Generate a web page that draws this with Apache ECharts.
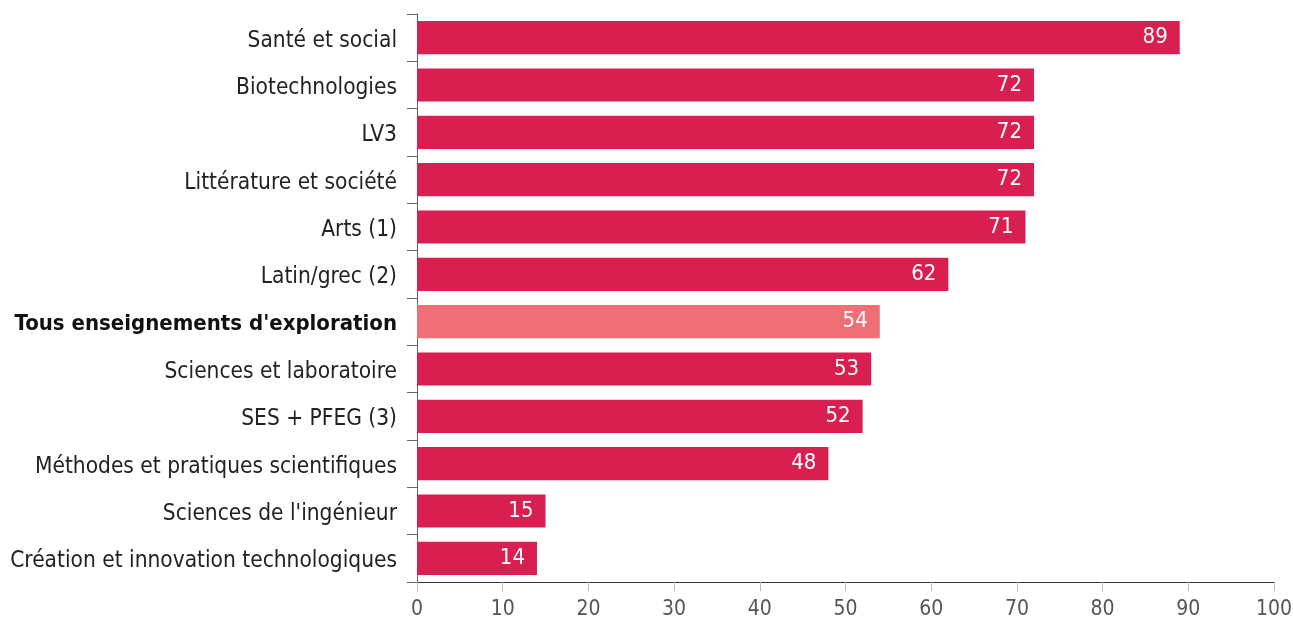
<!DOCTYPE html>
<html lang="fr">
  <head>
    <meta charset="UTF-8" />
    <title>Enseignements d'exploration</title>
    <style>
      * {
        margin: 0;
        padding: 0;
      }
      body {
        background: #fff;
      }
    </style>
  </head>
  <body>
    <div id="main" style="width: 1293px; height: 629px;"></div>
    <script src="https://cdn.jsdelivr.net/npm/echarts@6/dist/echarts.min.js"></script>
    <script>
      // données, du haut vers le bas
      const categories = [
        "Santé et social",
        "Biotechnologies",
        "LV3",
        "Littérature et société",
        "Arts (1)",
        "Latin/grec (2)",
        "Tous enseignements d'exploration",
        "Sciences et laboratoire",
        "SES + PFEG (3)",
        "Méthodes et pratiques scientifiques",
        "Sciences de l'ingénieur",
        "Création et innovation technologiques",
      ];
      const values = [89, 72, 72, 72, 71, 62, 54, 53, 52, 48, 15, 14];
      const highlight = "Tous enseignements d'exploration";
      const xTicks = [0, 10, 20, 30, 40, 50, 60, 70, 80, 90, 100];

      const font = "'DejaVu Sans Condensed', sans-serif";

      function draw() {
        let myEcharts = echarts.init(document.getElementById("main"));
        // echarts draws category axes from the bottom, so reverse
        let cats = categories.slice().reverse();
        let vals = values.slice().reverse();
        let data = vals.map(function (v, i) {
          return {
            value: v,
            itemStyle: { color: cats[i] === highlight ? "#ee7076" : "#d91f50" },
          };
        });

        let option = {
          animation: false,
          grid: {
            left: 417,
            right: 19,
            top: 14,
            bottom: 47,
            containLabel: false,
            outerBoundsMode: "none",
          },
          xAxis: {
            type: "value",
            min: xTicks[0],
            max: xTicks[xTicks.length - 1],
            interval: 10,
            splitLine: { show: false },
            axisLine: { show: true, lineStyle: { color: "#333", width: 1 } },
            axisTick: { show: true, length: 9, lineStyle: { color: "#bbb" } },
            axisLabel: {
              margin: 17,
              fontFamily: font,
              fontSize: 21,
              color: "#555",
            },
          },
          yAxis: {
            type: "category",
            data: cats,
            axisLine: { show: true, lineStyle: { color: "#666", width: 1 } },
            axisTick: { show: true, length: 10, lineStyle: { color: "#666" } },
            axisLabel: {
              margin: 20,
              fontFamily: font,
              fontSize: 22.5,
              color: "#222",
              padding: [6, 0, 0, 0],
              formatter: function (v) {
                return v === highlight ? "{b|" + v + "}" : v;
              },
              rich: {
                b: { fontFamily: font, fontSize: 22, fontWeight: "bold", color: "#111" },
              },
            },
          },
          series: [
            {
              type: "bar",
              data: data,
              barCategoryGap: "30%",
              label: {
                show: true,
                position: "insideRight",
                distance: 12,
                color: "#fff",
                fontFamily: font,
                fontSize: 22,
              },
            },
          ],
        };
        myEcharts.setOption(option);
      }
      draw();
    </script>
  </body>
</html>
